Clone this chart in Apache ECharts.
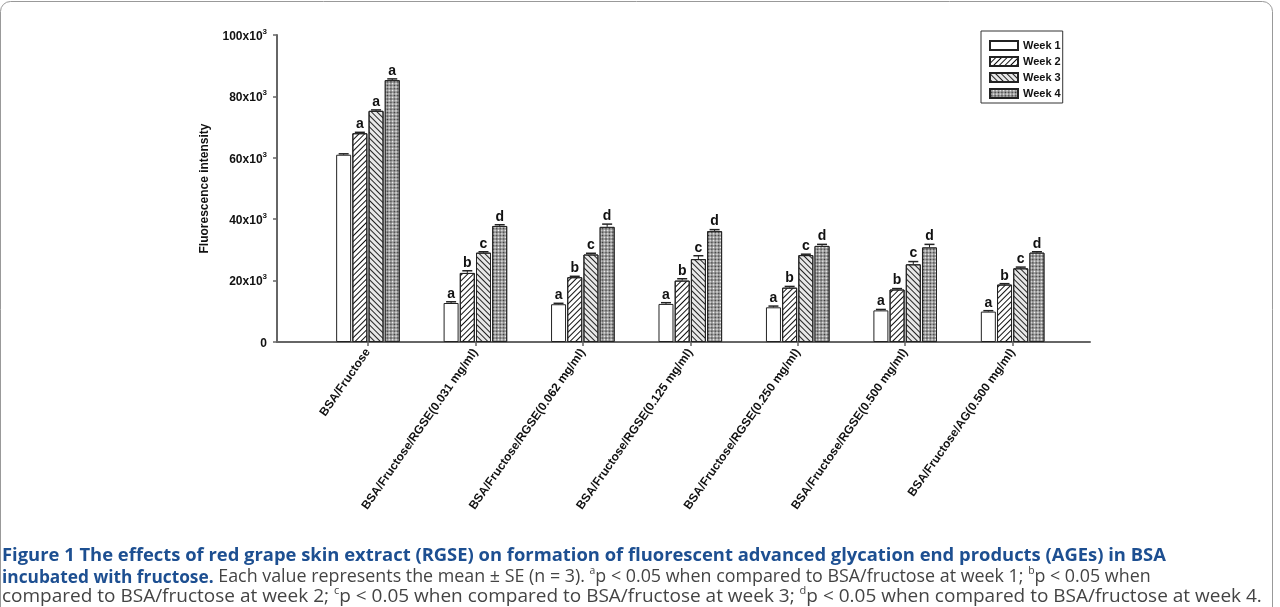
<!DOCTYPE html>
<html>
<head>
<meta charset="utf-8">
<script src="https://cdn.jsdelivr.net/npm/echarts@6/dist/echarts.min.js"></script>
<style>
  html, body { margin: 0; padding: 0; background: #fff; }
  #chart { position: absolute; left: 0; top: 0; width: 1280px; height: 607px; }
</style>
</head>
<body>
<div id="chart"></div>
<script>
// groups on the x axis
const categories = [
    'BSA/Fructose',
    'BSA/Fructose/RGSE(0.031 mg/ml)',
    'BSA/Fructose/RGSE(0.062 mg/ml)',
    'BSA/Fructose/RGSE(0.125 mg/ml)',
    'BSA/Fructose/RGSE(0.250 mg/ml)',
    'BSA/Fructose/RGSE(0.500 mg/ml)',
    'BSA/Fructose/AG(0.500 mg/ml)'
]
const weekNames = ['Week 1', 'Week 2', 'Week 3', 'Week 4']

// mean fluorescence intensity
const week1 = [61000, 12700, 12300, 12400, 11300, 10300, 9900]
const week2 = [68000, 22500, 21100, 20000, 17700, 17100, 18700]
const week3 = [75300, 29100, 28500, 27000, 28300, 25300, 24000]
const week4 = [85300, 37800, 37500, 36100, 31300, 30800, 29100]

// standard errors
const se1 = [300, 400, 300, 400, 400, 300, 300]
const se2 = [300, 700, 300, 600, 400, 300, 300]
const se3 = [300, 300, 400, 1100, 300, 900, 400]
const se4 = [400, 400, 900, 500, 500, 1000, 300]

// significance letters
const letters1 = ['', 'a', 'a', 'a', 'a', 'a', 'a']
const letters2 = ['a', 'b', 'b', 'b', 'b', 'b', 'b']
const letters3 = ['a', 'c', 'c', 'c', 'c', 'c', 'c']
const letters4 = ['a', 'd', 'd', 'd', 'd', 'd', 'd']

const FONT = 'Arial, "Liberation Sans", sans-serif'
const BAR_W = 15
const BAR_GAP = 0.08

const decals = [
    null,
    { symbol: 'rect', symbolSize: 1, color: '#111', dashArrayX: [1, 0], dashArrayY: [1, 2.5], rotation: -Math.PI / 4 },
    { symbol: 'rect', symbolSize: 1, color: '#222', dashArrayX: [1, 0], dashArrayY: [1, 2.5], rotation: Math.PI / 4 },
    { symbol: 'rect', symbolSize: 1, color: '#fff', dashArrayX: [[1, 1], [0, 1, 1, 0]], dashArrayY: [1, 0], rotation: Math.PI / 4 }
]
const barColors = ['#fff', '#fff', '#e8e8e8', '#333']

const means = [week1, week2, week3, week4]
const errs = [se1, se2, se3, se4]
const letters = [letters1, letters2, letters3, letters4]

const myChart = echarts.init(document.getElementById('chart'))

const barSeries = weekNames.map((name, w) => ({
    name: name,
    type: 'bar',
    barWidth: BAR_W,
    barGap: (BAR_GAP * 100) + '%',
    data: means[w].map((v, k) => [k, v]),
    itemStyle: {
        color: barColors[w],
        borderColor: '#222',
        borderWidth: 1,
        decal: decals[w] || undefined
    },
    emphasis: { disabled: true },
    z: 2
}))

// error bars + letters, placed next to the bar layout
const errSeries = weekNames.map((name, w) => ({
    type: 'custom',
    data: means[w].map((v, k) => [k, v, errs[w][k]]),
    encode: { x: 0, y: 1 },
    z: 3,
    silent: true,
    renderItem: function (params, api) {
        const k = api.value(0)
        const base = api.coord([k, api.value(1)])
        const top = api.coord([k, api.value(1) + api.value(2)])
        const x = base[0] + (w - 1.5) * BAR_W * (1 + BAR_GAP)
        const children = [
            { type: 'line', shape: { x1: x, y1: base[1], x2: x, y2: top[1] }, style: { stroke: '#222', lineWidth: 1 } },
            { type: 'line', shape: { x1: x - 5, y1: top[1], x2: x + 5, y2: top[1] }, style: { stroke: '#222', lineWidth: 1.5 } }
        ]
        const t = letters[w][params.dataIndex]
        if (t) {
            children.push({
                type: 'text',
                style: {
                    text: t, x: x, y: top[1] - 1,
                    align: 'center', verticalAlign: 'bottom',
                    font: 'bold 14px ' + FONT, fill: '#111'
                }
            })
        }
        return { type: 'group', children: children }
    }
}))

const capBlue = '#1d4f91'
const capGray = '#444'

myChart.setOption({
    animation: false,
    backgroundColor: '#fff',
    grid: { left: 277, right: 190, top: 35, bottom: 265, containLabel: false },
    legend: {
        orient: 'vertical',
        left: 981,
        top: 31,
        itemWidth: 28,
        itemHeight: 9,
        itemGap: 5,
        padding: [9, 2, 4, 8],
        borderColor: '#333',
        borderWidth: 1,
        icon: 'rect',
        data: weekNames,
        textStyle: { fontFamily: FONT, fontWeight: 'bold', fontSize: 11, color: '#111' }
    },
    xAxis: {
        type: 'value',
        min: -0.8465,
        max: 6.72,
        splitLine: { show: false },
        axisLine: { show: true, onZero: false, lineStyle: { color: '#666', width: 2 } },
        axisTick: { show: true, customValues: [0, 1, 2, 3, 4, 5, 6], length: 4, lineStyle: { color: '#666', width: 1.5 } },
        axisLabel: {
            customValues: [0, 1, 2, 3, 4, 5, 6],
            rotate: 55,
            margin: 8,
            fontFamily: FONT,
            fontWeight: 'bold',
            fontSize: 12,
            color: '#111',
            formatter: v => categories[Math.round(v)]
        }
    },
    yAxis: {
        type: 'value',
        min: 0,
        max: 100000,
        interval: 20000,
        name: 'Fluorescence intensity',
        nameLocation: 'middle',
        nameGap: 66,
        nameTextStyle: { fontFamily: FONT, fontWeight: 'bold', fontSize: 12, color: '#111' },
        splitLine: { show: false },
        axisLine: { show: true, onZero: false, lineStyle: { color: '#666', width: 2 } },
        axisTick: { show: true, length: 4, lineStyle: { color: '#666', width: 1.5 } },
        axisLabel: {
            margin: 10,
            formatter: v => v === 0 ? '{b|0}' : '{b|' + (v / 1000) + 'x10}{s|3}',
            rich: {
                b: { fontFamily: FONT, fontWeight: 'bold', fontSize: 12, color: '#111', lineHeight: 15, verticalAlign: 'bottom' },
                s: { fontFamily: FONT, fontWeight: 'bold', fontSize: 8, color: '#111', lineHeight: 9, verticalAlign: 'top' }
            }
        }
    },
    series: barSeries.concat(errSeries),
    graphic: [
        {
            type: 'rect', z: -10, silent: true,
            shape: { x: 0.5, y: 1.5, width: 1272, height: 700, r: 10 },
            style: { fill: 'none', stroke: '#999', lineWidth: 1 }
        },
        {
            type: 'text', x: 2, y: 556, silent: true,
            style: {
                text: 'Figure 1 The effects of red grape skin extract (RGSE) on formation of fluorescent advanced glycation end products (AGEs) in BSA',
                font: 'bold 18.4px "Open Sans", sans-serif', fill: capBlue, verticalAlign: 'middle'
            }
        },
        {
            type: 'text', x: 2, y: 576, scaleX: 0.94, silent: true,
            style: {
                text: '{t|incubated with fructose.}{n| Each value represents the mean ± SE (n = 3). }{s|a}{n|p < 0.05 when compared to BSA/fructose at week 1; }{s|b}{n|p < 0.05 when}',
                verticalAlign: 'middle',
                rich: {
                    t: { font: 'bold 18.4px "Open Sans", sans-serif', fill: capBlue, lineHeight: 21, verticalAlign: 'bottom' },
                    n: { font: '19px "Open Sans", sans-serif', fill: capGray, lineHeight: 21, verticalAlign: 'bottom' },
                    s: { font: '11px "Open Sans", sans-serif', fill: capGray, lineHeight: 12, verticalAlign: 'top' }
                }
            }
        },
        {
            type: 'text', x: 2, y: 596, silent: true,
            style: {
                text: '{n|compared to BSA/fructose at week 2; }{s|c}{n|p < 0.05 when compared to BSA/fructose at week 3; }{s|d}{n|p < 0.05 when compared to BSA/fructose at week 4.}',
                verticalAlign: 'middle',
                rich: {
                    n: { font: '19px "Open Sans", sans-serif', fill: capGray, lineHeight: 21, verticalAlign: 'bottom' },
                    s: { font: '11px "Open Sans", sans-serif', fill: capGray, lineHeight: 12, verticalAlign: 'top' }
                }
            }
        }
    ]
})
</script>
</body>
</html>
